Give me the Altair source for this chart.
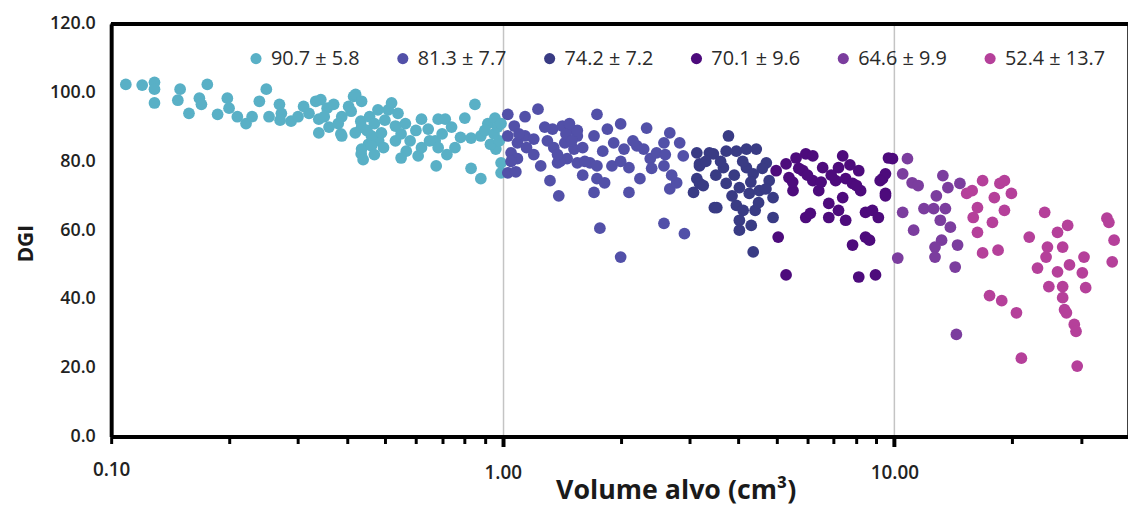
import altair as alt
import pandas as pd

labels = ["90.7 ± 5.8", "81.3 ± 7.7", "74.2 ± 7.2", "70.1 ± 9.6", "64.6 ± 9.9", "52.4 ± 13.7"]
colors = ["#59B0C6", "#5250A8", "#393B84", "#4D0B7C", "#7B3D9E", "#B5409A"]

g1 = [(0.109,102.4),(0.120,102.2),(0.129,103.0),(0.129,101.0),(0.129,97.0),(0.150,101.0),(0.148,97.8),
      (0.158,94.0),(0.168,98.4),(0.170,96.6),(0.176,102.4),(0.187,93.7),(0.198,98.4),(0.200,95.5),
      (0.210,93.0),(0.221,91.0),(0.229,93.0),(0.239,97.5),(0.249,101.0),(0.253,93.0),(0.269,96.6),
      (0.272,94.0),(0.288,91.7),(0.320,94.0),(0.333,97.5),(0.343,98.0),(0.339,92.3),(0.339,88.3),
      (0.356,95.5),(0.386,88.0),(0.416,98.9),(0.410,94.6),(0.434,91.7),(0.435,82.2),(0.454,85.0),
      (0.482,86.0),(0.421,99.5),(0.404,96.0),(0.370,96.6),(0.388,93.0),(0.436,97.5),(0.457,93.0),
      (0.436,90.0),(0.388,87.4),(0.420,88.3),(0.462,87.4),(0.490,88.3),(0.510,95.0),(0.540,94.0),
      (0.564,91.0),(0.532,90.3),(0.496,84.0),(0.436,83.6),(0.462,84.5),(0.532,86.0),(0.567,83.0),
      (0.608,81.6),(0.620,92.3),(0.645,89.4),(0.684,92.3),(0.713,92.3),(0.672,86.0),(0.684,84.0),
      (0.676,78.7),(0.755,84.0),(0.800,92.6),(0.849,96.6),(0.830,86.8),(0.879,87.4),(0.916,91.0),
      (0.955,92.6),(0.830,78.0),(0.879,75.0),(0.990,79.6),(0.990,76.7),(0.960,83.6),
      (0.35,93),(0.36,90),(0.38,91),(0.45,89),(0.47,91),(0.50,92),(0.55,88),(0.60,89),(0.58,86),
      (0.65,86),(0.70,88),(0.74,90),(0.78,87),(0.90,89),(0.95,88),(0.97,90),(0.48,95),(0.52,97),
      (0.31,96),(0.30,93),(0.27,92),(0.62,84),(0.72,82),(0.93,85),(0.98,86),(0.99,91),(0.44,80.5),
      (0.47,82),(0.55,81)]

g2 = [(1.03,93.7),(1.23,95.2),(1.14,93),(1.07,90.3),(1.03,87.4),(1.09,85.4),(1.05,82.5),(1.03,76.7),
      (1.09,80.8),(1.14,87.4),(1.2,86.5),(1.25,78.7),(1.32,74.4),(1.39,70),(1.34,89.4),(1.42,90.3),
      (1.49,89.4),(1.55,87.4),(1.44,85.4),(1.52,83.6),(1.46,80.8),(1.38,79.6),(1.55,79.6),(1.74,93.7),
      (1.71,87.4),(1.67,79.6),(1.74,78.7),(1.74,75),(1.71,71),(1.82,73.8),(1.77,60.6),(1.85,89.4),
      (2.0,90.9),(1.92,85.4),(2.04,83.6),(1.9,78.7),(2.1,78.2),(2.1,71),(2.0,52.2),(2.2,84.5),
      (2.33,89.7),(2.29,83.6),(2.38,80.8),(2.24,75),(2.47,82.5),(2.58,85.4),(2.67,88.3),(2.58,78.7),
      (2.67,72),(2.78,73.8),(2.58,62),(2.91,59),(2.83,85.4),(2.89,81.6),
      (1.1,88),(1.15,84),(1.2,82),(1.3,86),(1.35,84),(1.45,88),(1.5,86),(1.6,84),(1.4,80),(1.28,90),
      (1.62,80),(1.05,80),(1.08,77),(1.8,83),(2.0,80),(2.15,86),(2.4,78),(2.6,82),(2.7,76),(1.55,89),
      (1.48,91),(1.6,76),(1.38,82)]

g3 = [(3.13,82.5),(3.18,78.7),(3.13,75),(3.07,71),(3.37,82.5),(3.47,66.6),(3.77,87.4),(3.45,82.2),
      (3.18,79.3),(3.18,73.6),(3.72,83),(3.95,83),(4.19,83.6),(4.44,83.6),(3.66,78.2),(3.72,73.6),
      (4.02,72.4),(4.19,78.2),(4.36,76.4),(4.26,70.7),(4.52,71.5),(4.71,79.6),(4.79,74.4),(4.9,69.5),
      (3.52,66.6),(3.95,67.2),(4.11,65.8),(4.41,65.8),(4.02,62.9),(4.02,60),(4.31,61.4),(4.9,63.7),
      (4.36,53.7),(3.3,80),(3.5,76),(3.6,80),(3.9,76),(4.1,80),(4.6,78),(4.3,74),(3.85,70),(4.7,72),
      (3.25,73),(4.5,68)]

g4 = [(4.99,77.3),(5.29,79.3),(5.61,81),(5.94,82.2),(6.19,81.6),(5.38,75.3),(5.51,71.5),(5.84,77.3),
      (6.19,74.4),(6.41,71.5),(6.56,78.2),(6.8,67.8),(6.8,63.7),(5.94,63.7),(6.1,64.9),(5.05,58),
      (5.29,47),(7.38,81.6),(7.2,78.2),(7.08,74.4),(7.51,75),(7.82,73.6),(7.38,69.5),(7.2,65.8),
      (7.51,62.9),(8.11,77.3),(8.2,71.5),(8.44,65.2),(8.79,65.8),(9.1,63.7),(8.44,58),(8.64,57.1),
      (7.82,55.7),(8.11,46.4),(8.95,47),(9.33,75),(9.49,70.7),(9.66,81),(9.89,80.8),(9.49,76.4),
      (9.2,74.4),(9.49,70),(5.7,78),(6.0,76),(6.5,74),(6.9,76),(7.7,79),(8.0,73),(5.5,74)]

g5 = [(10.8,80.8),(10.5,76.4),(11.1,73.8),(11.5,73),(10.5,65.2),(11.2,60),(10.2,51.9),(13.3,75.9),
      (13.7,72.4),(14.7,73.6),(12.8,70),(11.9,66.3),(12.6,66.3),(13.5,66.3),(13.1,62.9),(13.9,60.9),
      (13.2,57.1),(12.7,55.1),(12.7,52.2),(14.5,55.7),(14.3,49.3),(14.4,29.7)]

g6 = [(15.3,70.7),(15.8,71.5),(16.8,74.4),(16.3,66.6),(15.9,63.7),(16.3,59.4),(17.8,62.3),(16.8,53.4),
      (18.4,54.2),(18.0,69.5),(18.6,73.6),(19.1,74.4),(19.9,70.7),(19.1,65.8),(22.1,58),(24.2,65.2),
      (24.6,55.1),(24.4,52.2),(23.2,49),(26.1,59.4),(26.9,55.1),(27.7,61.4),(26.1,47.9),(28,49.9),
      (30.5,52.2),(30.2,47.6),(34.9,63.5),(35.3,62.3),(36.4,57.1),(36,50.8),(24.8,43.6),(26.9,43.6),
      (30.8,43.3),(17.5,41),(18.8,39.5),(20.5,36),(21.1,22.8),(26.9,40.4),(27.2,36.9),(27.5,36),
      (28.8,32.6),(29.1,30.6),(29.3,20.5)]

groups = [g1, g2, g3, g4, g5, g6]
x_ticks = [0.1,0.2,0.3,0.4,0.5,0.6,0.7,0.8,0.9,1,2,3,4,5,6,7,8,9,10,20,30]
y_ticks = [0, 20, 40, 60, 80, 100, 120]

rows = []
for lab, pts in zip(labels, groups):
    for vx, vy in pts:
        rows.append({"vol": vx, "dgi": vy, "grupo": lab})
df = pd.DataFrame(rows)

major = "datum.value == 1 || datum.value == 10"

points = alt.Chart(df).mark_circle(size=140, opacity=1).encode(
    x=alt.X("vol:Q",
            scale=alt.Scale(type="log", domain=[0.1, 39.5], nice=False),
            axis=alt.Axis(values=x_ticks,
                          labelExpr="(datum.value == 0.1 || datum.value == 1 || datum.value == 10) ? format(datum.value, '.2f') : ''",
                          labelFlush=False,
                          title="Volume alvo (cm³)",
                          titleFont="Open Sans", titleFontSize=27, titleFontWeight="bold", titleColor="#1a1a1a",
                          titleX=569, titleY=41, titleBaseline="top",
                          labelFont="Open Sans", labelFontSize=19, labelFontWeight=600, labelColor="#222",
                          labelPadding=17,
                          domainColor="#000", domainWidth=4,
                          tickColor="#000",
                          tickWidth={"condition": {"test": major, "value": 4}, "value": 3},
                          tickSize={"condition": {"test": major, "value": 10}, "value": 7},
                          grid=True, gridColor="#c4c4c4", gridWidth=1.5,
                          gridOpacity={"condition": {"test": major, "value": 1}, "value": 0})),
    y=alt.Y("dgi:Q",
            scale=alt.Scale(domain=[0, 120], nice=False),
            axis=alt.Axis(values=y_ticks, format=".1f", title="DGI",
                          titleFont="Open Sans", titleFontSize=21, titleFontWeight="bold", titleColor="#1a1a1a",
                          titleX=-79, titleY=221, titleBaseline="alphabetic", titleAngle=270,
                          labelFont="Open Sans", labelFontSize=18, labelFontWeight=600, labelColor="#222",
                          labelPadding=16, ticks=False, grid=False,
                          domainColor="#000", domainWidth=4)),
    color=alt.Color("grupo:N",
                    scale=alt.Scale(domain=labels, range=colors),
                    title=None,
                    legend=alt.Legend(orient="none", legendX=136, legendY=25, direction="horizontal",
                                      columns=6, columnPadding=33, symbolType="circle", symbolSize=125,
                                      symbolOpacity=1, symbolStrokeWidth=0, labelOffset=5,
                                      labelFont="Open Sans", labelFontSize=20, labelFontWeight=500,
                                      labelColor="#2a2a2a", padding=0)),
)

top_rule = alt.Chart(df).mark_rule(color="#000", strokeWidth=4).encode(y=alt.datum(120))

chart = alt.layer(points, top_rule).properties(
    width=1025, height=416,
    autosize=alt.AutoSizeParams(type="none"),
    padding={"left": 104, "top": 14, "right": 0, "bottom": 70},
    background="white",
).configure_view(stroke="#000", strokeWidth=1.5)

chart.save("out.html", embed_options={"renderer": "svg", "actions": False})
